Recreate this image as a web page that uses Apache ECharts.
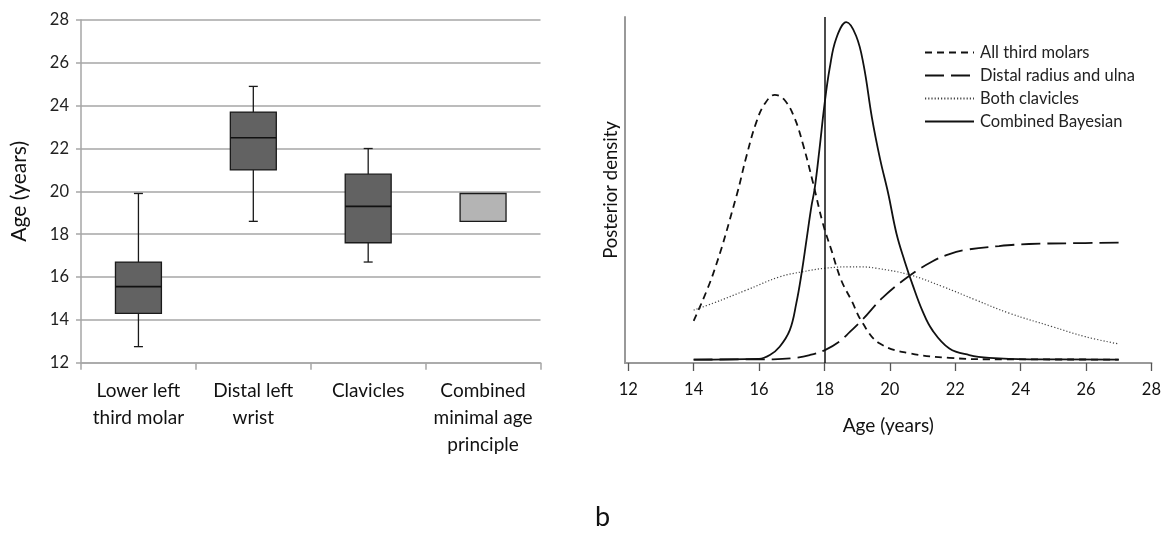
<!DOCTYPE html>
<html>
<head>
<meta charset="utf-8">
<script src="https://cdn.jsdelivr.net/npm/echarts@6/dist/echarts.min.js"></script>
<style>
    html, body { margin: 0; padding: 0; background: #fff; }
    #main { width: 1164px; height: 540px; }
</style>
</head>
<body>
<div id="main"></div>
<script>
// 左图: 各方法的年龄箱线图
const boxCategories = ['Lower left\nthird molar', 'Distal left\nwrist', 'Clavicles', 'Combined\nminimal age\nprinciple']
const boxMin = [12.75, 18.6, 16.7, 18.6]
const boxQ1 = [14.3, 21.0, 17.6, 18.6]
const boxMedian = [15.55, 22.5, 19.3, null]
const boxQ3 = [16.7, 23.7, 20.8, 19.9]
const boxMax = [19.9, 24.9, 22.0, 19.9]

// 右图: 后验密度曲线 (纵轴为相对密度)
const ageTicks = [12, 14, 16, 18, 20, 22, 24, 26, 28]
const molarAges = [14.0, 14.6, 15.31, 15.62, 15.92, 16.18, 16.48, 16.78, 17.09, 17.35, 17.65, 17.95, 18.21, 18.51, 18.82, 19.17, 19.68, 20.6, 21.82, 23.04, 27]
const molarDensity = [12.2, 25.9, 48.3, 60, 69.7, 75, 77.5, 76, 70.7, 63, 52.1, 40.4, 32.7, 24, 18.2, 11.5, 5.7, 2.8, 1.5, 1.07, 1.0]
const radiusAges = [14.0, 16.43, 17.04, 17.55, 18.03, 18.46, 18.77, 19.17, 19.78, 20.6, 21.31, 21.8, 22.33, 23.34, 24.26, 25.48, 27]
const radiusDensity = [1.0, 1.07, 1.4, 2.3, 3.8, 6.2, 8.9, 12.6, 18.9, 25.2, 29.4, 31.4, 32.7, 33.8, 34.4, 34.6, 34.8]
const clavicleAges = [14.0, 14.6, 15.62, 16.63, 17.35, 18.03, 18.77, 19.07, 19.58, 20.6, 21.61, 22.63, 23.65, 24.97, 25.98, 27]
const clavicleDensity = [15.3, 17.3, 21.1, 24.9, 26.4, 27.4, 27.8, 27.8, 27.4, 25.5, 22.1, 18.2, 14.4, 10.5, 7.6, 5.5]
const combinedAges = [14.0, 16.0, 16.33, 16.63, 16.94, 17.14, 17.3, 17.45, 17.6, 17.7, 17.85, 18.0, 18.16, 18.36, 18.67, 18.97, 19.2, 19.45, 19.7, 19.95, 20.2, 20.45, 20.7, 21.0, 21.3, 21.82, 22.43, 23.04, 24.26, 27]
const combinedDensity = [1.0, 1.2, 2.3, 4.7, 9.5, 17.3, 25.9, 35.5, 45.2, 50.3, 62, 74.6, 85.2, 93.8, 98.5, 94.5, 86, 71, 59, 49, 37.5, 29.5, 22.5, 15, 9.5, 4.2, 2.3, 1.5, 1.07, 1.0]
const minimalAge = 18

const boxFill = ['#626262', '#626262', '#626262', '#b4b4b4']
const font = 'Lato'

function pairs(xs, ys) {
    return xs.map((x, i) => [x, ys[i]])
}

const chart = echarts.init(document.getElementById('main'))

const boxData = boxCategories.map((c, i) => [
    i, boxMin[i], boxQ1[i], boxMedian[i] == null ? NaN : boxMedian[i], boxQ3[i], boxMax[i],
])

// 自绘箱线图: 须线末端是短横线
function renderBox(params, api) {
    const i = api.value(0)
    const x = api.coord([i, 0])[0]
    const half = api.size([1, 0])[0] * 0.2
    const cap = 4.5
    const y = (k) => api.coord([i, api.value(k)])[1]
    const yMin = y(1), yQ1 = y(2), yQ3 = y(4), yMax = y(5)
    const line = { stroke: '#1a1a1a', lineWidth: 1.3 }
    const children = []
    if (yMax < yQ3 - 0.5) {
        children.push({ type: 'line', shape: { x1: x, y1: yMax, x2: x, y2: yQ3 }, style: line })
        children.push({ type: 'line', shape: { x1: x - cap, y1: yMax, x2: x + cap, y2: yMax }, style: line })
    }
    if (yMin > yQ1 + 0.5) {
        children.push({ type: 'line', shape: { x1: x, y1: yQ1, x2: x, y2: yMin }, style: line })
        children.push({ type: 'line', shape: { x1: x - cap, y1: yMin, x2: x + cap, y2: yMin }, style: line })
    }
    children.push({
        type: 'rect',
        shape: { x: x - half, y: yQ3, width: half * 2, height: yQ1 - yQ3 },
        style: { fill: boxFill[i], stroke: '#1a1a1a', lineWidth: 1.3 },
    })
    const med = api.value(3)
    if (!isNaN(med)) {
        const yMed = api.coord([i, med])[1]
        children.push({ type: 'line', shape: { x1: x - half, y1: yMed, x2: x + half, y2: yMed }, style: { stroke: '#111', lineWidth: 1.6 } })
    }
    return { type: 'group', children }
}

const curveLine = (name, xs, ys, lineStyle) => ({
    name,
    type: 'line',
    xAxisIndex: 1,
    yAxisIndex: 1,
    data: pairs(xs, ys),
    smooth: 0.4,
    symbol: 'none',
    showSymbol: false,
    lineStyle: Object.assign({ color: '#111', width: 1.8 }, lineStyle),
    itemStyle: { color: '#111' },
    silent: true,
})

const option = {
    animation: false,
    textStyle: { fontFamily: font },
    grid: [
        { left: 81, top: 20, width: 459.5, height: 342.7 },
        { left: 625, top: 17, width: 528, height: 346 },
    ],
    xAxis: [
        {
            gridIndex: 0,
            type: 'category',
            data: boxCategories,
            boundaryGap: true,
            axisLine: { lineStyle: { color: '#a6a6a6', width: 1.5 } },
            axisTick: { show: true, length: 7, lineStyle: { color: '#a6a6a6', width: 1.5 } },
            axisLabel: { interval: 0, margin: 15, fontSize: 19, lineHeight: 27, color: '#111', fontFamily: font },
        },
        {
            gridIndex: 1,
            type: 'value',
            min: 11.9,
            max: 28,
            splitLine: { show: false },
            axisLine: { lineStyle: { color: '#999', width: 2 } },
            axisTick: { show: true, length: 8, customValues: ageTicks, lineStyle: { color: '#555', width: 1.3 } },
            axisLabel: { customValues: ageTicks, margin: 18, fontSize: 16.5, color: '#111', fontFamily: font },
            name: 'Age (years)',
            nameLocation: 'middle',
            nameGap: 53,
            nameTextStyle: { fontSize: 19, color: '#111', fontFamily: font },
        },
    ],
    yAxis: [
        {
            gridIndex: 0,
            type: 'value',
            min: 12,
            max: 28,
            interval: 2,
            axisLine: { show: true, lineStyle: { color: '#a6a6a6', width: 1.5 } },
            axisTick: { show: true, length: 5, lineStyle: { color: '#a6a6a6', width: 1.5 } },
            splitLine: { lineStyle: { color: '#a6a6a6', width: 1.5 } },
            axisLabel: { margin: 12, fontSize: 16.5, color: '#222', fontFamily: font },
            name: 'Age (years)',
            nameLocation: 'middle',
            nameGap: 51,
            nameTextStyle: { fontSize: 21, color: '#111', fontFamily: font },
        },
        {
            gridIndex: 1,
            type: 'value',
            min: 0,
            max: 100,
            axisLine: { show: true, lineStyle: { color: '#999', width: 2 } },
            axisTick: { show: false },
            axisLabel: { show: false },
            splitLine: { show: false },
            name: 'Posterior density',
            nameLocation: 'middle',
            nameGap: 4,
            nameTextStyle: { fontSize: 18.5, color: '#111', fontFamily: font },
        },
    ],
    legend: {
        orient: 'vertical',
        left: 919,
        top: 39,
        itemWidth: 49,
        itemHeight: 14,
        itemGap: 6,
        // 图例只显示线型, 隐藏圆点
        itemStyle: { opacity: 0 },
        textStyle: { fontSize: 16.5, color: '#222', fontFamily: font, padding: [0, 0, 0, 1] },
        data: ['All third molars', 'Distal radius and ulna', 'Both clavicles', 'Combined Bayesian'],
    },
    graphic: [
        { type: 'text', left: -13, top: 504, style: { text: 'a', fontSize: 27, fontFamily: font, fill: '#111' } },
        { type: 'text', left: 595, top: 504, style: { text: 'b', fontSize: 27, fontFamily: font, fill: '#111' } },
    ],
    series: [
        {
            type: 'custom',
            xAxisIndex: 0,
            yAxisIndex: 0,
            renderItem: renderBox,
            encode: { x: 0, y: [1, 2, 3, 4, 5] },
            data: boxData,
            silent: true,
        },
        curveLine('All third molars', molarAges, molarDensity, { type: [7, 5] }),
        curveLine('Distal radius and ulna', radiusAges, radiusDensity, { type: [19, 7] }),
        curveLine('Both clavicles', clavicleAges, clavicleDensity, { type: [1.2, 2], width: 1.2, color: '#444' }),
        Object.assign(curveLine('Combined Bayesian', combinedAges, combinedDensity, {}), {
            markLine: {
                silent: true,
                symbol: 'none',
                label: { show: false },
                lineStyle: { color: '#111', width: 1.5, type: 'solid' },
                data: [{ xAxis: minimalAge }],
            },
        }),
    ],
}

chart.setOption(option)
</script>
</body>
</html>
